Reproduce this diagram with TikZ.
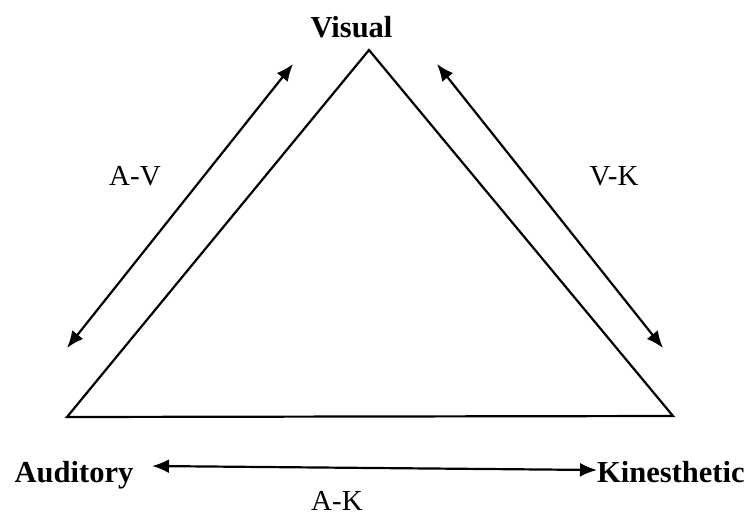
\documentclass[tikz,border=0pt]{standalone}
\usepackage{fontspec}
\setmainfont{Liberation Serif}
\usetikzlibrary{arrows.meta}
\begin{document}
\begin{tikzpicture}[x=1pt,y=-1pt,
  big/.style={font=\fontsize{30.5}{36}\selectfont\bfseries, inner sep=0pt},
  lbl/.style={font=\fontsize{29}{34}\selectfont, inner sep=0pt},
  edge/.style={line width=2.2pt, line join=miter},
  dbl/.style={line width=2.2pt, {Latex[length=17pt,width=14pt]}-{Latex[length=17pt,width=14pt]}}]
\useasboundingbox (0,0) rectangle (753,523);
% triangle corners
\coordinate (top) at (369,50);
\coordinate (bl) at (67,417);
\coordinate (br) at (673,416);
\draw[edge] (top) -- (bl) -- (br) -- cycle;
% labels
\node[big, anchor=base] (vis) at (351.5,37) {Visual};
\node[big, anchor=base] (aud) at (74,482) {Auditory};
\node[big, anchor=base west] (kin) at (597,482) {Kinesthetic};
\node[lbl, anchor=base] (av) at (135,185) {A-V};
\node[lbl, anchor=base] (vk) at (614,185) {V-K};
\node[lbl, anchor=base] (ak) at (337,510) {A-K};
% arrow ends
\coordinate (avtop) at (293,64);
\coordinate (avbot) at (67,348);
\coordinate (vktop) at (437,64);
\coordinate (vkbot) at (663,348);
\coordinate (akleft) at (152,466);
\coordinate (akright) at (597,470);
\draw[dbl] (avtop) -- (avbot);
\draw[dbl] (vktop) -- (vkbot);
\draw[dbl] (akleft) -- (akright);
\end{tikzpicture}
\end{document}
